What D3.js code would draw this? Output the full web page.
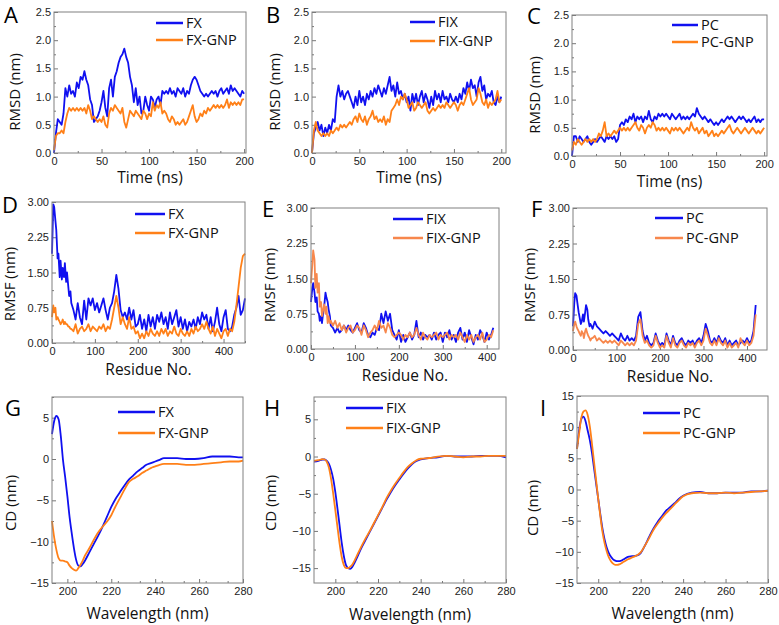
<!DOCTYPE html>
<html>
<head>
<meta charset="utf-8">
<script src="https://cdn.jsdelivr.net/npm/d3@7"></script>
<style>
  body { margin: 0; background: #fff; }
  text { font-family: "Open Sans", sans-serif; }
  .tick text { font-family: "Liberation Sans", Arial, sans-serif; font-size: 11px; fill: #222; }
  .tick line { stroke: #777; }
</style>
</head>
<body>
<div id="chart"></div>
<script>
// figure size
const width = 779;
const height = 625;
const blue = "#1010f0";
const orange = "#ff8018";
const orange2 = "#f7874c";

// ---- RMSD (time, ns) ----
const timeNs = d3.range(0, 201, 2);
const rmsdFX = [0.0,0.35,0.6,0.55,0.5,0.7,1.15,1.0,1.2,1.05,1.1,1.0,1.25,1.15,1.35,1.3,1.45,1.3,1.2,0.95,0.85,0.55,0.6,0.65,0.75,0.9,1.1,0.8,0.65,1.15,1.3,1.0,1.35,1.45,1.6,1.7,1.75,1.85,1.7,1.6,1.35,1.2,0.9,1.15,0.85,1.0,0.7,0.75,1.0,0.85,0.75,
  1.0,0.95,0.8,0.95,1.0,0.85,1.1,1.05,1.1,1.05,1.15,1.05,1.1,1.0,1.15,1.1,1.05,1.15,1.0,1.1,1.05,1.2,1.3,1.35,1.3,1.2,1.1,1.05,1.0,1.05,1.0,1.05,1.1,1.05,1.1,1.0,1.1,1.15,1.05,1.1,1.15,1.05,1.2,1.1,1.15,1.1,1.05,1.0,1.1,1.05];
const rmsdFXGNP = [0.05,0.3,0.35,0.35,0.4,0.35,0.55,0.7,0.8,0.75,0.8,0.75,0.8,0.75,0.8,0.75,0.8,0.7,0.85,0.75,0.6,0.65,0.6,0.55,0.6,0.55,0.65,0.5,0.45,0.7,0.8,0.75,0.85,0.8,0.75,0.7,0.8,0.55,0.45,0.6,0.75,0.7,0.65,0.75,0.7,0.65,0.6,0.75,0.7,0.6,0.7,
  0.65,0.9,0.75,0.85,0.8,0.9,0.7,0.75,0.7,0.6,0.55,0.65,0.6,0.5,0.55,0.5,0.55,0.6,0.5,0.55,0.65,0.75,0.85,0.65,0.55,0.6,0.7,0.65,0.75,0.7,0.8,0.75,0.8,0.85,0.8,0.85,0.8,0.85,0.8,0.85,0.95,0.8,0.9,0.85,0.9,0.85,0.9,0.85,0.95,0.95];
const rmsdFIX = [0,0.35,0.45,0.55,0.4,0.5,0.3,0.45,0.35,0.5,0.4,0.6,0.55,1.0,1.2,1.0,1.1,0.95,1.05,1.1,1.0,0.9,0.8,1.0,0.85,1.1,0.9,1.0,0.85,1.05,0.95,1.1,1.0,1.15,1.05,1.2,1.1,1.0,1.15,1.05,1.2,1.35,1.1,1.2,1.0,1.25,1.05,1.1,0.95,1.05,0.9,
  1.0,0.75,1.05,0.9,1.05,0.85,1.0,1.1,0.9,1.05,0.95,0.8,1.0,0.85,1.1,0.95,1.05,0.9,1.1,0.95,1.0,0.9,1.05,0.95,0.9,1.0,0.9,1.05,0.95,1.15,1.05,1.25,1.1,1.3,1.15,1.2,1.0,1.25,1.35,1.1,1.2,0.95,1.05,1.0,1.1,0.9,0.85,1.0,0.9,1.0];
const rmsdFIXGNP = [0,0.4,0.55,0.4,0.35,0.3,0.35,0.3,0.35,0.3,0.4,0.35,0.4,0.45,0.4,0.5,0.45,0.5,0.45,0.5,0.55,0.5,0.6,0.65,0.55,0.7,0.6,0.55,0.65,0.5,0.6,0.65,0.75,0.6,0.65,0.55,0.6,0.55,0.65,0.5,0.6,0.55,0.75,0.8,0.85,0.95,0.85,1.0,0.95,1.05,0.95,
  0.8,0.85,0.9,0.75,0.8,0.9,0.85,0.8,0.85,0.9,0.75,0.7,0.75,0.8,0.75,0.8,0.85,0.8,0.85,0.8,0.9,0.85,0.8,0.85,0.9,0.85,0.75,0.85,0.9,0.85,0.95,1.05,1.15,0.95,0.85,0.9,0.95,1.15,1.05,0.9,0.85,0.95,0.8,0.9,0.85,0.9,0.95,1.1,0.9,0.95];
const rmsdPC = [0.0,0.35,0.35,0.25,0.35,0.3,0.25,0.3,0.35,0.25,0.2,0.25,0.3,0.25,0.3,0.35,0.3,0.25,0.35,0.3,0.35,0.3,0.35,0.25,0.3,0.55,0.6,0.55,0.65,0.6,0.7,0.65,0.75,0.6,0.7,0.65,0.7,0.6,0.7,0.65,0.8,0.65,0.6,0.7,0.65,0.75,0.7,0.75,0.7,0.75,0.7,
  0.65,0.75,0.7,0.65,0.7,0.75,0.65,0.7,0.65,0.7,0.65,0.7,0.75,0.7,0.85,0.75,0.7,0.65,0.7,0.65,0.6,0.65,0.6,0.55,0.6,0.55,0.6,0.65,0.6,0.65,0.7,0.65,0.7,0.65,0.6,0.65,0.7,0.65,0.7,0.65,0.6,0.65,0.6,0.65,0.7,0.6,0.65,0.6,0.65,0.65];
const rmsdPCGNP = [0.1,0.25,0.2,0.3,0.25,0.2,0.25,0.3,0.25,0.3,0.25,0.3,0.25,0.3,0.4,0.35,0.45,0.6,0.35,0.4,0.35,0.4,0.45,0.4,0.45,0.5,0.45,0.5,0.45,0.5,0.45,0.5,0.55,0.6,0.5,0.45,0.55,0.5,0.4,0.5,0.55,0.5,0.6,0.55,0.45,0.5,0.45,0.5,0.45,0.5,0.45,
  0.4,0.5,0.45,0.5,0.45,0.5,0.45,0.4,0.45,0.5,0.45,0.6,0.5,0.45,0.5,0.4,0.45,0.5,0.4,0.45,0.35,0.4,0.45,0.35,0.4,0.35,0.4,0.45,0.4,0.45,0.5,0.55,0.45,0.4,0.45,0.5,0.45,0.4,0.45,0.5,0.45,0.4,0.45,0.5,0.45,0.4,0.45,0.4,0.45,0.5];

// ---- RMSF (residue no.) ----
const earlyRes = [0,3,5,8,10,13,15,18,20,23,25,28,30,33,35,38,40,43,45];
const fxResidue = earlyRes.concat(d3.range(50, 451, 5));
const fixResidue = earlyRes.concat(d3.range(50, 416, 5));
const pcResidue = earlyRes.concat(d3.range(50, 421, 5));

const rmsfFX = [1.9,2.95,2.9,2.6,2.4,1.8,1.9,1.4,1.75,1.35,1.6,1.4,1.7,1.3,1.5,1.2,1.0,1.1,0.85,
  0.7,0.5,0.85,0.55,0.4,0.9,0.5,0.95,0.8,0.95, 0.7,0.85,0.65,0.8,0.95,0.7,0.5,0.75,0.85,1.1,
  1.45,1.15,0.7,0.55,0.65,0.5,0.75,0.5,0.7,0.35, 0.4,0.6,0.3,0.5,0.25,0.6,0.35,0.55,0.3,0.6,
  0.45,0.65,0.4,0.55,0.3,0.65,0.4,0.55,0.7,0.35, 0.55,0.3,0.5,0.25,0.45,0.35,0.5,0.3,0.55,0.4,
  0.65,0.5,0.6,0.3,0.55,0.25,0.45,0.75,0.4,0.25, 0.55,0.7,0.3,0.25,0.35,0.6,0.75,1.0,0.6,0.7, 0.95];
const rmsfFXGNP = [0.55,0.8,0.65,0.75,0.5,0.55,0.5,0.45,0.4,0.45,0.5,0.4,0.45,0.4,0.4,0.35,0.35,0.3,0.3,
  0.25,0.4,0.2,0.3,0.35,0.25,0.3,0.4,0.25,0.35, 0.3,0.25,0.35,0.3,0.4,0.25,0.35,0.3,0.5,0.75,
  1.0,0.75,0.4,0.55,0.4,0.3,0.55,0.3,0.35,0.2, 0.25,0.1,0.2,0.1,0.25,0.15,0.3,0.2,0.15,0.25,
  0.15,0.3,0.2,0.3,0.15,0.25,0.2,0.35,0.2,0.15, 0.3,0.2,0.15,0.25,0.15,0.3,0.2,0.35,0.25,0.3,
  0.4,0.3,0.45,0.3,0.2,0.35,0.15,0.3,0.2,0.1, 0.25,0.3,0.15,0.3,0.25,0.45,0.8,1.2,1.6,1.85, 1.9];
const rmsfFIX = [1.0,1.3,1.4,1.2,1.0,1.1,0.8,0.75,0.6,0.7,0.55,0.8,0.9,1.2,1.1,1.0,0.85,0.7,0.5,
  0.45,0.35,0.45,0.35,0.4,0.5,0.4,0.5,0.4,0.35, 0.45,0.55,0.4,0.35,0.55,0.45,0.3,0.25,0.35,0.3,
  0.45,0.4,0.75,0.55,0.8,0.6,0.75,0.4,0.3,0.2, 0.4,0.15,0.3,0.15,0.25,0.35,0.2,0.3,0.6,0.25,
  0.35,0.2,0.3,0.25,0.3,0.2,0.35,0.2,0.3,0.35, 0.15,0.35,0.25,0.4,0.2,0.3,0.15,0.35,0.45,0.2,
  0.35,0.15,0.4,0.25,0.1,0.3,0.2,0.4,0.3,0.15, 0.35,0.2,0.3,0.45];
const rmsfFIXGNP = [1.4,1.8,2.1,1.9,1.3,1.6,1.2,1.4,0.9,1.0,0.7,0.85,0.95,0.75,0.9,0.55,0.7,0.55,0.6,
  0.5,0.6,0.45,0.55,0.4,0.5,0.35,0.45,0.5,0.35, 0.4,0.5,0.45,0.3,0.5,0.4,0.25,0.35,0.4,0.5,
  0.4,0.6,0.45,0.5,0.35,0.55,0.45,0.3,0.25,0.3, 0.35,0.3,0.2,0.3,0.25,0.35,0.25,0.3,0.45,0.3,
  0.2,0.35,0.25,0.2,0.3,0.25,0.3,0.35,0.2,0.3, 0.25,0.3,0.35,0.2,0.3,0.25,0.3,0.2,0.35,0.25,
  0.15,0.3,0.2,0.3,0.15,0.25,0.3,0.2,0.35,0.15, 0.2,0.3,0.25,0.4];
const rmsfPC = [0.5,1.0,1.2,1.15,1.0,0.8,0.7,0.55,0.6,0.75,0.6,0.8,0.95,0.85,0.65,0.5,0.55,0.5,0.45,
  0.6,0.5,0.45,0.4,0.35,0.4,0.35,0.3,0.35,0.3, 0.25,0.2,0.35,0.25,0.2,0.3,0.2,0.25,0.2,0.3,
  0.7,0.8,0.4,0.2,0.3,0.15,0.1,0.15,0.35,0.2, 0.1,0.15,0.1,0.35,0.2,0.1,0.3,0.15,0.1,0.2,
  0.25,0.15,0.1,0.2,0.15,0.2,0.1,0.2,0.25,0.15, 0.3,0.55,0.4,0.2,0.15,0.25,0.15,0.3,0.2,0.15,
  0.25,0.1,0.2,0.1,0.15,0.2,0.1,0.15,0.2,0.15, 0.25,0.15,0.2,0.4,0.95];
const rmsfPCGNP = [0.4,0.55,0.6,0.5,0.45,0.4,0.35,0.3,0.4,0.35,0.25,0.4,0.45,0.35,0.3,0.25,0.2,0.25,0.25,
  0.3,0.2,0.25,0.2,0.15,0.2,0.15,0.2,0.15,0.2, 0.15,0.1,0.2,0.15,0.1,0.15,0.1,0.15,0.1,0.2,
  0.55,0.65,0.3,0.15,0.2,0.1,0.05,0.1,0.3,0.15, 0.05,0.1,0.05,0.3,0.15,0.05,0.25,0.1,0.05,0.15,
  0.2,0.1,0.05,0.15,0.1,0.15,0.05,0.15,0.2,0.1, 0.2,0.45,0.3,0.15,0.1,0.2,0.1,0.25,0.15,0.1,
  0.2,0.05,0.15,0.05,0.1,0.15,0.05,0.25,0.15,0.1, 0.2,0.1,0.15,0.3,0.75];

// ---- CD spectra (wavelength, nm) ----
const fxWave = [193,194,195,196,197,198,199,200,201,202,203,204,205,206,207,208,210,212,214,216,218,220,222,224,226,228,230,232,234,236,238,240,242,244,246,248,250,254,258,262,266,270,274,278,280];
const cdFX = [3.0,4.6,5.2,4.8,2.8,-0.1,-2.2,-4.5,-7.0,-9.0,-10.8,-12.2,-12.9,-13.0,-12.7,-12.3,-11.3,-10.3,-9.3,-8.2,-7.0,-5.8,-4.8,-4.0,-3.2,-2.5,-2.0,-1.5,-1.1,-0.7,-0.5,-0.3,-0.1,0.1,0.1,0.1,0.1,0.0,0.0,0.1,0.3,0.3,0.3,0.2,0.2];
const cdFXGNP = [-7.5,-9.5,-11.0,-12.0,-12.3,-12.3,-12.4,-12.5,-12.9,-13.2,-13.4,-13.5,-13.2,-12.8,-12.3,-11.7,-10.8,-9.8,-8.9,-8.2,-7.6,-6.8,-5.7,-4.7,-3.7,-2.8,-2.4,-2.1,-1.7,-1.4,-1.1,-0.9,-0.7,-0.6,-0.6,-0.6,-0.6,-0.7,-0.7,-0.6,-0.5,-0.4,-0.3,-0.3,-0.2];
const fixWave = [190,192,194,195,196,197,198,199,200,201,202,203,204,205,206,207,208,209,210,212,214,216,218,220,222,224,226,228,230,232,234,236,238,240,244,248,252,256,260,264,268,272,276,280];
const cdFIX = [-0.7,-0.6,-0.4,-0.4,-0.6,-1.0,-1.8,-3.0,-4.8,-7.0,-9.3,-11.6,-13.4,-14.6,-15.0,-15.1,-14.8,-14.3,-13.7,-12.4,-11.3,-10.2,-9.1,-8.0,-6.9,-5.8,-4.8,-3.9,-3.1,-2.3,-1.6,-1.0,-0.6,-0.4,-0.2,-0.1,0.1,0.0,0.0,0.0,0.1,0.1,0.1,-0.1];
const cdFIXGNP = [-0.6,-0.5,-0.35,-0.4,-0.7,-1.5,-3.0,-5.0,-7.2,-9.5,-11.7,-13.5,-14.6,-15.0,-15.0,-14.8,-14.5,-14.0,-13.4,-12.2,-11.1,-10.1,-9.0,-7.9,-6.8,-5.6,-4.6,-3.7,-2.9,-2.1,-1.4,-0.9,-0.5,-0.3,-0.2,0.0,0.1,0.0,-0.1,0.0,0.0,0.1,0.1,0.1];
const pcWave = [190,191,192,193,194,195,196,197,198,199,200,201,202,203,204,205,206,207,208,209,210,212,214,216,218,220,222,224,226,228,230,232,234,236,238,240,244,248,252,256,260,264,268,272,276,280];
const cdPC = [6.5,9.5,11.3,11.7,11.0,9.5,8.0,6.0,3.5,1.0,-1.5,-4.0,-6.3,-8.0,-9.3,-10.2,-10.8,-11.2,-11.4,-11.5,-11.5,-11.2,-10.8,-10.7,-10.6,-10.2,-9.0,-7.6,-6.3,-5.2,-4.3,-3.4,-2.8,-2.2,-1.5,-1.0,-0.5,-0.4,-0.6,-0.6,-0.5,-0.5,-0.5,-0.3,-0.3,-0.2];
const cdPCGNP = [6.5,9.0,11.5,12.5,12.7,12.0,10.2,7.5,4.5,1.5,-1.5,-4.3,-6.8,-8.6,-9.9,-10.9,-11.5,-11.9,-12.1,-12.1,-12.0,-11.6,-11.2,-10.9,-10.6,-10.1,-9.0,-7.8,-6.5,-5.5,-4.6,-3.8,-3.1,-2.4,-1.7,-1.1,-0.6,-0.5,-0.6,-0.6,-0.5,-0.6,-0.5,-0.4,-0.3,-0.2];

// ---- tick labels ----
const rmsdTicks = [0, 0.5, 1.0, 1.5, 2.0, 2.5];
const timeTicks = [0, 50, 100, 150, 200];
const rmsfTicks = [0, 0.75, 1.5, 2.25, 3.0];
const resTicks = [0, 100, 200, 300, 400];
const waveTicks = [200, 220, 240, 260, 280];

const svg = d3.select("#chart").append("svg")
  .attr("width", width)
  .attr("height", height);

// one panel per entry
const panels = [
  {letter:"A", lx:4, ly:23, box:[54,12,246,153], xd:[0,202], yd:[0,2.5], xt:timeTicks, xm:25, yt:rmsdTicks, ym:0.25, yf:d3.format(".1f"),
   x:timeNs, s1:rmsdFX, s2:rmsdFXGNP, n1:"FX", n2:"FX-GNP", xl:"Time (ns)", yl:"RMSD (nm)", xly:183, ylx:15, yly:92, leg:[156,183,23,40], w:1.8, c2:orange},
  {letter:"B", lx:266, ly:23, box:[312,12,506,153], xd:[0,205], yd:[0,2.5], xt:timeTicks, xm:25, yt:rmsdTicks, ym:0.25, yf:d3.format(".1f"),
   x:timeNs, s1:rmsdFIX, s2:rmsdFIXGNP, n1:"FIX", n2:"FIX-GNP", xl:"Time (ns)", yl:"RMSD (nm)", xly:183, ylx:275, yly:92, leg:[410,435,22,41], w:1.8, c2:orange},
  {letter:"C", lx:527, ly:24, box:[572,15,767,156], xd:[0,203], yd:[0,2.5], xt:timeTicks, xm:25, yt:rmsdTicks, ym:0.25, yf:d3.format(".1f"),
   x:timeNs, s1:rmsdPC, s2:rmsdPCGNP, n1:"PC", n2:"PC-GNP", xl:"Time (ns)", yl:"RMSD (nm)", xly:187, ylx:535, yly:95, leg:[672,698,25,42], w:1.8, c2:orange},
  {letter:"D", lx:2, ly:213, box:[52,202,245,343], xd:[0,450], yd:[0,3], xt:resTicks, xm:50, yt:rmsfTicks, ym:0.375, yf:d3.format(".2f"),
   x:fxResidue, s1:rmsfFX, s2:rmsfFXGNP, n1:"FX", n2:"FX-GNP", xl:"Residue No.", yl:"RMSF (nm)", xly:375, ylx:10, yly:284, leg:[135,165,214,233], w:1.8, c2:orange},
  {letter:"E", lx:262, ly:217, box:[311,208,499,349], xd:[0,428], yd:[0,3], xt:resTicks, xm:50, yt:rmsfTicks, ym:0.375, yf:d3.format(".2f"),
   x:fixResidue, s1:rmsfFIX, s2:rmsfFIXGNP, n1:"FIX", n2:"FIX-GNP", xl:"Residue No.", yl:"RMSF (nm)", xly:381, ylx:270, yly:285, leg:[393,423,219,238], w:1.8, c2:orange2},
  {letter:"F", lx:531, ly:217, box:[573,208,767,350], xd:[0,446], yd:[0,3], xt:resTicks, xm:50, yt:rmsfTicks, ym:0.375, yf:d3.format(".2f"),
   x:pcResidue, s1:rmsfPC, s2:rmsfPCGNP, n1:"PC", n2:"PC-GNP", xl:"Residue No.", yl:"RMSF (nm)", xly:382, ylx:530, yly:285, leg:[655,683,218,238], w:1.8, c2:orange2},
  {letter:"G", lx:5, ly:416, box:[52,397,243,583], xd:[193,280], yd:[-15,7.5], xt:waveTicks, xm:10, yt:[-15,-10,-5,0,5], ym:2.5, yf:d3.format("d"),
   x:fxWave, s1:cdFX, s2:cdFXGNP, n1:"FX", n2:"FX-GNP", xl:"Wavelength (nm)", yl:"CD (nm)", xly:619, ylx:11, yly:503, leg:[118,155,412,433], w:1.8, c2:orange, smooth:true},
  {letter:"H", lx:264, ly:416, box:[314,397,506,583], xd:[190,280], yd:[-17,8], xt:waveTicks, xm:10, yt:[-15,-10,-5,0,5], ym:2.5, yf:d3.format("d"),
   x:fixWave, s1:cdFIX, s2:cdFIXGNP, n1:"FIX", n2:"FIX-GNP", xl:"Wavelength (nm)", yl:"CD (nm)", xly:620, ylx:271, yly:503, leg:[346,383,408,428], w:1.8, c2:orange, smooth:true},
  {letter:"I", lx:540, ly:416, box:[577,396,768,583], xd:[190,280], yd:[-15,15], xt:waveTicks, xm:10, yt:[-15,-10,-5,0,5,10,15], ym:2.5, yf:d3.format("d"),
   x:pcWave, s1:cdPC, s2:cdPCGNP, n1:"PC", n2:"PC-GNP", xl:"Wavelength (nm)", yl:"CD (nm)", xly:619, ylx:533, yly:508, leg:[643,680,413,433], w:1.8, c2:orange, smooth:true}
];

panels.forEach(function(p) {
  const [x0, y0, x1, y1] = p.box;
  const xScale = d3.scaleLinear().domain(p.xd).range([x0, x1]);
  const yScale = d3.scaleLinear().domain(p.yd).range([y1, y0]);
  const g = svg.append("g");

  // minor ticks
  const xMinor = d3.range(p.xd[0], p.xd[1] + 0.001, p.xm).filter(v => p.xt.indexOf(v) < 0 && v > p.xd[0]);
  const yMinor = d3.range(p.yt[0], p.yd[1] + 0.001, p.ym).filter(v => p.yt.indexOf(+v.toFixed(3)) < 0);
  g.append("g").attr("transform", `translate(0,${y1})`)
    .call(d3.axisBottom(xScale).tickValues(xMinor).tickSizeInner(-2).tickSizeOuter(0).tickFormat(""))
    .call(a => a.select(".domain").remove());
  g.append("g").attr("transform", `translate(${x0},0)`)
    .call(d3.axisLeft(yScale).tickValues(yMinor).tickSizeInner(-2).tickSizeOuter(0).tickFormat(""))
    .call(a => a.select(".domain").remove());

  // major ticks
  g.append("g").attr("transform", `translate(0,${y1})`)
    .call(d3.axisBottom(xScale).tickValues(p.xt).tickSizeInner(-4).tickSizeOuter(0).tickPadding(4).tickFormat(d3.format("d")))
    .call(a => a.select(".domain").remove());
  g.append("g").attr("transform", `translate(${x0},0)`)
    .call(d3.axisLeft(yScale).tickValues(p.yt).tickSizeInner(-4).tickSizeOuter(0).tickPadding(3).tickFormat(p.yf))
    .call(a => a.select(".domain").remove());

  // data lines
  const line = d3.line()
    .x((d, i) => xScale(p.x[i]))
    .y(d => yScale(d))
    .curve(p.smooth ? d3.curveMonotoneX : d3.curveLinear);
  g.append("path").datum(p.s1.slice(0, p.x.length))
    .attr("d", line).attr("fill", "none").attr("stroke", blue)
    .attr("stroke-width", p.w).attr("stroke-linejoin", "round");
  g.append("path").datum(p.s2.slice(0, p.x.length))
    .attr("d", line).attr("fill", "none").attr("stroke", p.c2)
    .attr("stroke-width", p.w).attr("stroke-linejoin", "round");

  // frame
  g.append("rect").attr("x", x0).attr("y", y0)
    .attr("width", x1 - x0).attr("height", y1 - y0)
    .attr("fill", "none").attr("stroke", "#808080").attr("stroke-width", 1);

  // legend
  const [lx0, lx1, ly1, ly2] = p.leg;
  [[p.n1, blue, ly1], [p.n2, p.c2, ly2]].forEach(function(e) {
    g.append("line").attr("x1", lx0).attr("x2", lx1).attr("y1", e[2]).attr("y2", e[2])
      .attr("stroke", e[1]).attr("stroke-width", 2.5);
    g.append("text").attr("x", lx1 + 3).attr("y", e[2]).attr("dy", "0.35em")
      .attr("font-size", 14.5).attr("fill", "#111").text(e[0]);
  });

  // axis titles
  g.append("text").attr("x", (x0 + x1) / 2).attr("y", p.xly)
    .attr("text-anchor", "middle").attr("font-size", 15.5).attr("fill", "#111").text(p.xl);
  g.append("text").attr("transform", `translate(${p.ylx},${p.yly}) rotate(-90)`)
    .attr("text-anchor", "middle").attr("dy", "0.35em")
    .attr("font-size", 15).attr("fill", "#111").text(p.yl);

  // panel letter
  svg.append("text").attr("x", p.lx).attr("y", p.ly)
    .attr("font-size", 22).attr("fill", "#000").text(p.letter);
});
</script>
</body>
</html>
